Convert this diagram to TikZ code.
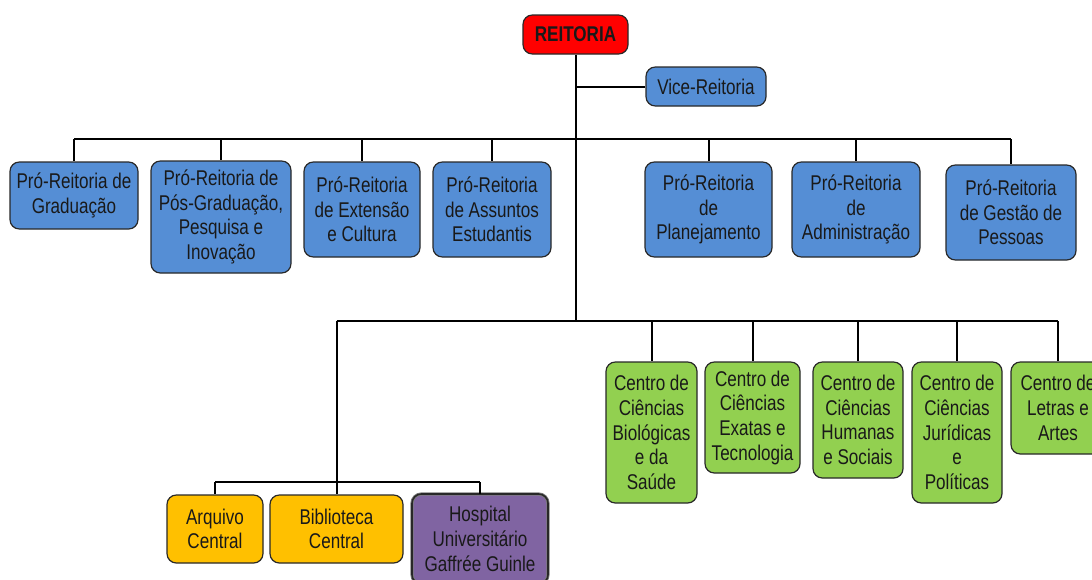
\documentclass[tikz,border=0pt]{standalone}
\usepackage{fontspec}
\setmainfont{Liberation Sans}[FakeStretch=0.8]
\definecolor{pblue}{RGB}{85,142,213}
\definecolor{pgreen}{RGB}{146,208,80}
\definecolor{porange}{RGB}{255,192,0}
\definecolor{ppurple}{RGB}{128,100,162}
\definecolor{pred}{RGB}{255,0,0}
\definecolor{pborder}{RGB}{40,40,40}
\tikzset{
  box/.style={draw=pborder,line width=0.9pt,rounded corners=7pt,align=center,inner sep=0pt,
    font=\fontsize{16}{18.5}\selectfont,text=black!90},
  bluebox/.style={box,fill=pblue},
  greenbox/.style={box,fill=pgreen},
  orangebox/.style={box,fill=porange},
  link/.style={line width=1.5pt,black},
}
\begin{document}
\begin{tikzpicture}[x=0.75pt,y=-0.75pt]
\useasboundingbox (0,0) rectangle (1092,579);
\node[box,fill=pred,minimum width=105*0.75pt,minimum height=39*0.75pt,font=\fontsize{16}{18.5}\selectfont\bfseries] (rei) at (575.5,34.5) {REITORIA};
\node[bluebox,minimum width=120*0.75pt,minimum height=39*0.75pt] (vice) at (706,86.5) {Vice-Reitoria};

\node[bluebox,minimum width=128*0.75pt,minimum height=67*0.75pt] (p1) at (74,195.5) {Pró-Reitoria de\\Graduação};
\node[bluebox,minimum width=140*0.75pt,minimum height=112*0.75pt] (p2) at (221,217) {Pró-Reitoria de\\Pós-Graduação,\\Pesquisa e\\Inovação};
\node[bluebox,minimum width=116*0.75pt,minimum height=95*0.75pt] (p3) at (362,209.5) {Pró-Reitoria\\de Extensão\\e Cultura};
\node[bluebox,minimum width=118*0.75pt,minimum height=95*0.75pt] (p4) at (492,209.5) {Pró-Reitoria\\de Assuntos\\Estudantis};
\node[bluebox,minimum width=127*0.75pt,minimum height=95*0.75pt] (p5) at (708.5,209.5) {Pró-Reitoria\\de\\Planejamento};
\node[bluebox,minimum width=128*0.75pt,minimum height=95*0.75pt] (p6) at (856,209.5) {Pró-Reitoria\\de\\Administração};
\node[bluebox,minimum width=130*0.75pt,minimum height=95*0.75pt] (p7) at (1011,212.5) {Pró-Reitoria\\de Gestão de\\Pessoas};

\node[greenbox,minimum width=91*0.75pt,minimum height=141*0.75pt] (c1) at (651.5,432.5) {Centro de\\Ciências\\Biológicas\\e da\\Saúde};
\node[greenbox,minimum width=95*0.75pt,minimum height=111*0.75pt] (c2) at (752.5,417.5) {Centro de\\Ciências\\Exatas e\\Tecnologia};
\node[greenbox,minimum width=90*0.75pt,minimum height=116*0.75pt] (c3) at (858,420) {Centro de\\Ciências\\Humanas\\e Sociais};
\node[greenbox,minimum width=90*0.75pt,minimum height=141*0.75pt] (c4) at (957,432.5) {Centro de\\Ciências\\Jurídicas\\e\\Políticas};
\node[greenbox,minimum width=94*0.75pt,minimum height=92*0.75pt] (c5) at (1058,408) {Centro de\\Letras e\\Artes};

\node[orangebox,minimum width=96*0.75pt,minimum height=68*0.75pt] (arq) at (215,529) {Arquivo\\Central};
\node[orangebox,minimum width=133*0.75pt,minimum height=68*0.75pt] (bib) at (336.5,529) {Biblioteca\\Central};
\node[box,fill=ppurple,double=pborder,draw=pborder!60,double distance=1.2pt,line width=0.6pt,minimum width=136*0.75pt,minimum height=90*0.75pt] (hos) at (480,539) {Hospital\\Universitário\\Gaffrée Guinle};

% connectors
\coordinate (top) at (576,139);
\coordinate (mid) at (576,321);
\coordinate (vj) at (576,86.5);
\coordinate (lj) at (336.5,321);
\coordinate (bj) at (336.5,482);

\draw[link] (rei.south -| top) -- (mid);
\draw[link] (vj) -- (vice.west);
\draw[link] (p1.north |- top) -- (p7.north |- top);
\foreach \n in {p1,p2,p3,p4,p5,p6,p7} \draw[link] (\n.north |- top) -- (\n.north);
\draw[link] (lj) -- (c5.north |- mid);
\foreach \n in {c1,c2,c3,c4,c5} \draw[link] (\n.north |- mid) -- (\n.north);
\draw[link] (lj) -- (bib.north);
\draw[link] (arq.north |- bj) -- (hos.north |- bj);
\draw[link] (arq.north |- bj) -- (arq.north);
\draw[link] (hos.north |- bj) -- (hos.north);
\end{tikzpicture}
\end{document}
